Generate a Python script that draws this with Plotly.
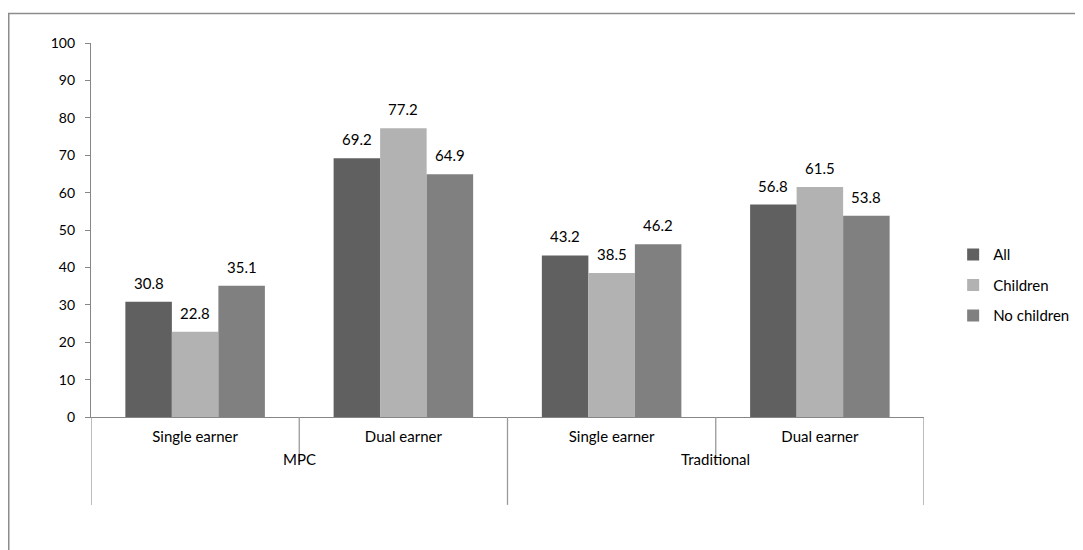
import plotly.graph_objects as go

groups = ["MPC", "MPC", "Traditional", "Traditional"]
earners = ["Single earner", "Dual earner", "Single earner", "Dual earner"]
series_names = ["All", "Children", "No children"]
all_vals = [30.8, 69.2, 43.2, 56.8]
children_vals = [22.8, 77.2, 38.5, 61.5]
nochildren_vals = [35.1, 64.9, 46.2, 53.8]
colors = ["#606060", "#b2b2b2", "#808080"]
y_ticks = list(range(0, 101, 10))

font_family = "Lato, Carlito, 'Open Sans', sans-serif"
BARGAP = 0.33
axis_col = "#868686"

keys = [f"{g} / {e}" for g, e in zip(groups, earners)]
series = [all_vals, children_vals, nochildren_vals]

fig = go.Figure()
for name, vals, col in zip(series_names, series, colors):
    fig.add_trace(go.Bar(
        name=name, x=keys, y=vals, legendgroup=name,
        marker=dict(color=col, line=dict(width=0)),
        hovertemplate="%{y}<extra>" + name + "</extra>",
    ))

# value labels above the bars
n = len(series)
w = (1 - BARGAP) / n
for k, vals in enumerate(series):
    off = (k - (n - 1) / 2) * w
    for i, v in enumerate(vals):
        fig.add_annotation(x=i + off, y=v, xref="x", yref="y", text=f"{v:.1f}",
                           showarrow=False, yanchor="bottom", yshift=8,
                           font=dict(size=15, color="#000000", family=font_family))

# outer category labels + dividers
outer = []
for i, g in enumerate(groups):
    if not outer or outer[-1][0] != g:
        outer.append([g, i, i])
    else:
        outer[-1][2] = i
for g, i0, i1 in outer:
    fig.add_annotation(x=(i0 + i1) / 2, y=-0.112, xref="x", yref="paper", text=g,
                       showarrow=False, yanchor="middle",
                       font=dict(size=15, color="#000000", family=font_family))
boundaries = set()
for g, i0, i1 in outer:
    boundaries.add(i0 - 0.5)
    boundaries.add(i1 + 0.5)
for b in range(len(keys) + 1):
    xb = b - 0.5
    y_end = -0.235 if xb in boundaries else -0.119
    fig.add_shape(type="line", xref="x", yref="paper", x0=xb, x1=xb, y0=0, y1=y_end,
                  line=dict(color="#9a9a9a", width=1.3))

fig.update_layout(
    width=1083, height=550,
    margin=dict(l=83, r=167, t=35, b=141, autoexpand=False),
    paper_bgcolor="white", plot_bgcolor="white",
    barmode="group", bargap=BARGAP, bargroupgap=0,
    font=dict(family=font_family, size=15, color="#000000"),
    showlegend=True,
    legend=dict(x=1.035, y=0.352, xanchor="left", yanchor="middle",
                font=dict(size=15), itemwidth=30, tracegroupgap=8,
                traceorder="grouped", bgcolor="rgba(0,0,0,0)"),
)
fig.update_yaxes(range=[0, 100], tickvals=y_ticks, showgrid=False, zeroline=False,
                 showline=True, linecolor=axis_col, linewidth=1.3,
                 ticks="outside", ticklen=5, tickcolor=axis_col, tickwidth=1.3,
                 tickfont=dict(size=14), ticklabelstandoff=7, automargin=False)
fig.update_xaxes(type="category", range=[-0.5, len(keys) - 0.5],
                 tickvals=keys, ticktext=earners,
                 showline=True, linecolor=axis_col, linewidth=1.3,
                 ticks="", showgrid=False, zeroline=False,
                 tickfont=dict(size=15), ticklabelstandoff=6, automargin=False)

# outer chart border (cropped at right and bottom like the reference)
fig.add_shape(type="rect", xref="paper", yref="paper",
              x0=(0.75 - 83) / 833, x1=1.25, y0=-0.5, y1=(408.5 - 5.5) / 373.5,
              line=dict(color="#8c8c8c", width=1.5), fillcolor="rgba(0,0,0,0)", layer="below")

fig.write_html("out.html")
